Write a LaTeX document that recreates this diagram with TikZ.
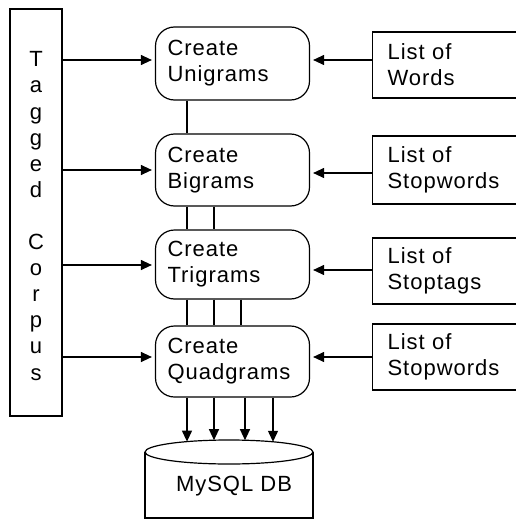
\documentclass[tikz,border=0pt]{standalone}
\usepackage{fontspec}
\setmainfont{Liberation Sans}[LetterSpace=4.5]
\usetikzlibrary{arrows.meta}
\begin{document}
\begin{tikzpicture}[x=1pt,y=-1pt, line width=1.2pt,
  txt/.style={font=\fontsize{22}{26}\selectfont},
  proc/.style={draw, rounded corners=19pt, minimum width=154pt, text width=130pt, inner xsep=12pt, inner ysep=0pt, align=left, txt},
  listbox/.style={draw, minimum width=228pt, text width=198pt, inner xsep=15pt, inner ysep=0pt, align=left, txt, anchor=west},
  arr/.style={-{Triangle[length=11pt,width=10pt]}},
  harr/.style={arr, shorten >=3pt}
]
\useasboundingbox (0,0) rectangle (516,519);
\clip (0,0) rectangle (516,519);

% Tagged corpus
\node[draw, minimum width=52pt, minimum height=407pt, inner sep=0pt] (corpus) at (36,212.5) {};
\node[align=center, inner sep=0pt, font=\fontsize{22}{26.1}\selectfont] (corpustext) at (36,216)
  {T\\a\\g\\g\\e\\d\\~\\C\\o\\r\\p\\u\\s};

% process boxes
\node[proc, minimum height=73pt] (uni)  at (232.5,63.5)  {Create\\Unigrams};
\node[proc, minimum height=72pt] (bi)   at (232.5,170)   {Create\\Bigrams};
\node[proc, minimum height=69pt] (tri)  at (232.5,264.5) {Create\\Trigrams};
\node[proc, minimum height=71pt] (quad) at (232.5,361.5) {Create\\Quadgrams};

% list boxes
\node[listbox, minimum height=66pt] (words) at (372,65)  {List of\\Words};
\node[listbox, minimum height=68pt] (stopw) at (372,170) {List of\\Stopwords};
\node[listbox, minimum height=66pt] (stopt) at (372,271) {List of\\Stoptags};
\node[listbox, minimum height=66pt] (stopw2) at (372,357) {List of\\Stopwords};

% database
\draw (229,452) ellipse [x radius=84, y radius=12];
\draw (145,452) -- (145,518) -- (313,518) -- (313,452);
\node[txt, inner sep=0pt] (db) at (234,486) {MySQL DB};
\coordinate (d1) at (187,441.6);
\coordinate (d2) at (214,440.2);
\coordinate (d3) at (245,440.2);
\coordinate (d4) at (273,441.8);

% corpus arrows
\draw[harr] (corpus.east |- 0,60)  -- (uni.west |- 0,60);
\draw[harr] (corpus.east |- 0,170) -- (bi.west |- 0,170);
\draw[harr] (corpus.east |- 0,265) -- (tri.west |- 0,265);
\draw[harr] (corpus.east |- 0,357) -- (quad.west |- 0,357);

% list arrows
\draw[harr] (words.west |- 0,60)   -- (uni.east |- 0,60);
\draw[harr] (stopw.west |- 0,173)  -- (bi.east |- 0,173);
\draw[harr] (stopt.west |- 0,270)  -- (tri.east |- 0,270);
\draw[harr] (stopw2.west |- 0,357) -- (quad.east |- 0,357);

% vertical links
\draw (uni.south -| 187,0) -- (bi.north -| 187,0);
\draw (bi.south -| 187,0) -- (tri.north -| 187,0);
\draw (bi.south -| 214,0) -- (tri.north -| 214,0);
\draw (tri.south -| 187,0) -- (quad.north -| 187,0);
\draw (tri.south -| 214,0) -- (quad.north -| 214,0);
\draw (tri.south -| 241,0) -- (quad.north -| 241,0);

% to database
\draw[arr] (quad.south -| d1) -- (d1);
\draw[arr] (quad.south -| d2) -- (d2);
\draw[arr] (quad.south -| d3) -- (d3);
\draw[arr] (quad.south -| d4) -- (d4);
\end{tikzpicture}
\end{document}
